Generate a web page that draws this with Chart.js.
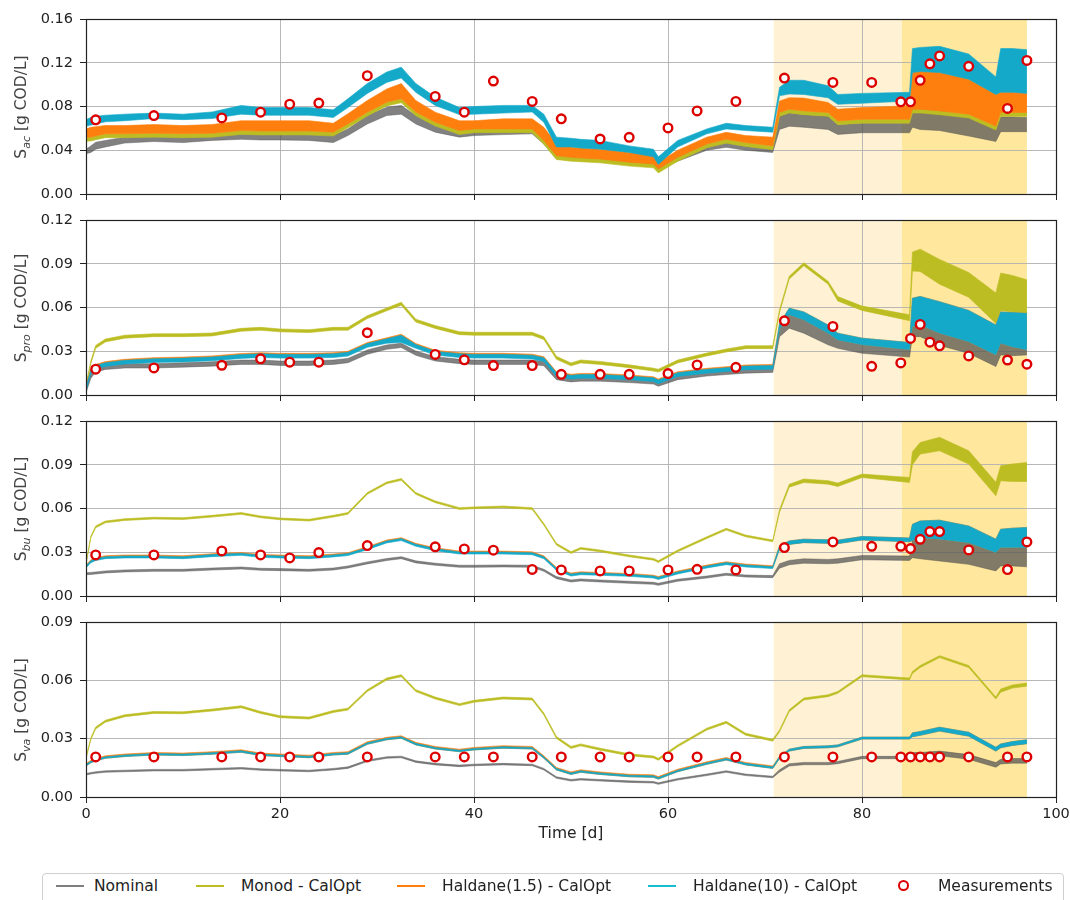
<!DOCTYPE html>
<html>
<head>
<meta charset="utf-8">
<title>VFA concentrations</title>
<script src="https://cdn.jsdelivr.net/npm/chart.js@4.4.1/dist/chart.umd.min.js"></script>
<style>
  html, body { margin: 0; padding: 0; background: #fff; }
  body { width: 1070px; height: 900px; position: relative; overflow: hidden; font-family: "DejaVu Sans", sans-serif; }
  canvas.panel { position: absolute; left: 0; }
  .ylab { position: absolute; left: 21px; transform: translate(-50%, -50%) rotate(-90deg); white-space: nowrap; font-size: 15.5px; color: #444; }
  .ylab .sub { font-size: 11px; font-style: italic; position: relative; top: 4px; }
  #xtitle { position: absolute; left: 571px; top: 833px; transform: translate(-50%, -50%); font-size: 15.5px; color: #222; white-space: nowrap; }
  #legend { position: absolute; left: 42px; top: 873px; width: 1022px; height: 36px; border: 1px solid #cfcfcf; border-radius: 4px; box-sizing: border-box; }
  .lg-line { position: absolute; top: 885px; width: 28px; height: 2px; }
  .lg-txt { position: absolute; top: 886px; transform: translateY(-50%); font-size: 15.5px; color: #222; white-space: nowrap; }
  .lg-mark { position: absolute; left: 898px; top: 880px; width: 7px; height: 7px; border: 2.4px solid #dd0000; border-radius: 50%; background: #fff; }
</style>
</head>
<body>
<canvas id="c1" class="panel" width="1070" height="195" style="top:9px"></canvas>
<canvas id="c2" class="panel" width="1070" height="195" style="top:210px"></canvas>
<canvas id="c3" class="panel" width="1070" height="195" style="top:411px"></canvas>
<canvas id="c4" class="panel" width="1070" height="230" style="top:612px"></canvas>

<div class="ylab" style="top:106.5px">S<span class="sub">ac</span> [g COD/L]</div>
<div class="ylab" style="top:307.5px">S<span class="sub">pro</span> [g COD/L]</div>
<div class="ylab" style="top:508.5px">S<span class="sub">bu</span> [g COD/L]</div>
<div class="ylab" style="top:709.5px">S<span class="sub">va</span> [g COD/L]</div>
<div id="xtitle">Time [d]</div>

<div id="legend"></div>
<div class="lg-line" style="left:56px;background:#7f7f7f"></div>
<div class="lg-txt" style="left:94px">Nominal</div>
<div class="lg-line" style="left:196px;background:#bcbd22"></div>
<div class="lg-txt" style="left:241px">Monod - CalOpt</div>
<div class="lg-line" style="left:397px;background:#ff7f0e"></div>
<div class="lg-txt" style="left:442px">Haldane(1.5) - CalOpt</div>
<div class="lg-line" style="left:648px;background:#17becf"></div>
<div class="lg-txt" style="left:693px">Haldane(10) - CalOpt</div>
<div class="lg-mark"></div>
<div class="lg-txt" style="left:938px">Measurements</div>

<script>
// Simulation time grid [d]; every curve below is sampled on it.
// Each simulated series is stored as the upper and lower envelope of its daily oscillation.
const T = [0,0.5,1,2,4,7,10,13,16,18,20,23,25.5,27,29,31,32.5,34,36,38.5,40,43,46,47.2,48.5,50,51,53,56,58.5,59,61,64,66,68,70.8,71.5,72.5,74,76.5,77.5,80,84.9,85.2,86,88,91,93.8,94.3,95.5,97];

// Sampling days of the lab measurements
const MEAS_T = [1,7,14,18,21,24,29,36,39,42,46,49,53,56,60,63,67,72,77,81,84,85,86,87,88,91,95,97];

// Operating periods highlighted in the background
const PERIOD_A = [70.9, 84.1];
const PERIOD_B = [84.1, 97];

// Axis ticks
const X_TICKS = [0,20,40,60,80,100];
const Y_TICKS_AC = [0,0.04,0.08,0.12,0.16];
const Y_TICKS_PRO = [0,0.03,0.06,0.09,0.12];
const Y_TICKS_BU = [0,0.03,0.06,0.09,0.12];
const Y_TICKS_VA = [0,0.03,0.06,0.09];

// ---- S_ac ----
const AC_H10_HI = [0.068,0.070,0.071,0.072,0.073,0.074,0.073,0.075,0.081,0.079,0.079,0.079,0.077,0.087,0.101,0.1115,0.116,0.101,0.0886,0.079,0.080,0.081,0.081,0.073,0.052,0.051,0.050,0.049,0.044,0.041,0.034,0.049,0.0595,0.0647,0.0626,0.061,0.0975,0.104,0.104,0.099,0.091,0.092,0.093,0.133,0.134,0.135,0.128,0.107,0.133,0.133,0.132];
const AC_H10_LO = [0.062,0.063,0.064,0.066,0.067,0.069,0.068,0.069,0.073,0.072,0.072,0.072,0.070,0.079,0.092,0.102,0.106,0.093,0.081,0.0726,0.073,0.074,0.075,0.0655,0.043,0.043,0.042,0.041,0.038,0.034,0.027,0.043,0.055,0.0595,0.058,0.0565,0.0898,0.0914,0.091,0.088,0.082,0.083,0.085,0.111,0.112,0.111,0.105,0.091,0.093,0.093,0.092];
const AC_H15_HI = [0.0595,0.061,0.0616,0.0626,0.0626,0.0635,0.0626,0.0635,0.067,0.067,0.067,0.067,0.0647,0.0733,0.0855,0.096,0.101,0.0855,0.0748,0.067,0.067,0.0687,0.0687,0.061,0.046,0.0427,0.042,0.041,0.038,0.035,0.029,0.040,0.052,0.0564,0.0534,0.052,0.085,0.088,0.0877,0.0837,0.0775,0.079,0.0806,0.111,0.112,0.111,0.105,0.091,0.093,0.093,0.092];
const AC_H15_LO = [0.0518,0.052,0.053,0.055,0.055,0.0555,0.055,0.0555,0.058,0.0575,0.0575,0.0575,0.0565,0.064,0.0748,0.084,0.087,0.075,0.0656,0.058,0.0595,0.0595,0.0595,0.049,0.035,0.0335,0.033,0.032,0.029,0.0274,0.0228,0.0335,0.0457,0.050,0.047,0.044,0.0745,0.0775,0.076,0.0745,0.0668,0.0683,0.0683,0.0775,0.0775,0.076,0.073,0.062,0.0745,0.0745,0.0745];
const AC_MON_HI = [0.0518,0.052,0.053,0.055,0.055,0.0555,0.055,0.0555,0.058,0.0575,0.0575,0.0575,0.0565,0.064,0.0748,0.084,0.087,0.075,0.0656,0.058,0.0595,0.0595,0.0595,0.049,0.035,0.0335,0.033,0.032,0.029,0.0274,0.0228,0.0335,0.0457,0.050,0.047,0.044,0.0745,0.0775,0.076,0.0745,0.0668,0.0683,0.0683,0.0775,0.0775,0.076,0.073,0.062,0.0745,0.0745,0.0745];
const AC_MON_LO = [0.0483,0.0485,0.0495,0.0515,0.0515,0.052,0.0515,0.052,0.0545,0.054,0.054,0.054,0.053,0.0605,0.0713,0.0805,0.0835,0.0715,0.0621,0.0545,0.056,0.056,0.056,0.0455,0.0315,0.030,0.0295,0.0285,0.0255,0.0239,0.0193,0.030,0.0422,0.0465,0.0435,0.0405,0.071,0.074,0.0725,0.071,0.0633,0.0648,0.0648,0.074,0.074,0.0725,0.0695,0.0585,0.071,0.071,0.071];
const AC_NOM_HI = [0.041,0.044,0.0473,0.049,0.052,0.0534,0.0534,0.054,0.0565,0.055,0.0555,0.055,0.0534,0.0595,0.0717,0.0794,0.081,0.0717,0.064,0.0595,0.0595,0.060,0.061,0.055,0.040,0.038,0.0375,0.0366,0.034,0.032,0.0274,0.0366,0.0457,0.047,0.045,0.0427,0.071,0.074,0.0725,0.071,0.0633,0.0648,0.0648,0.0775,0.0775,0.076,0.0714,0.059,0.0705,0.0705,0.070];
const AC_NOM_LO = [0.0367,0.038,0.041,0.043,0.0466,0.048,0.047,0.049,0.050,0.0494,0.0494,0.049,0.047,0.0534,0.064,0.0717,0.073,0.064,0.0565,0.052,0.0534,0.0543,0.055,0.0457,0.032,0.031,0.0305,0.030,0.0274,0.0248,0.0228,0.030,0.040,0.0427,0.040,0.038,0.059,0.062,0.061,0.059,0.0545,0.056,0.056,0.061,0.059,0.058,0.053,0.048,0.057,0.057,0.057];
const AC_MEAS = [0.0678,0.0717,0.0696,0.0748,0.0821,0.0831,0.1082,0.0892,0.0748,0.1033,0.0846,0.0687,0.0503,0.0518,0.0604,0.0760,0.0846,0.1060,0.1020,0.1020,0.0843,0.0843,0.1039,0.1190,0.1262,0.1167,0.0782,0.1221];

// ---- S_pro ----
const PRO_H10_HI = [0.0055,0.0173,0.0203,0.0222,0.0238,0.0249,0.0253,0.0261,0.0277,0.0283,0.0279,0.0279,0.0283,0.0293,0.0353,0.0385,0.041,0.0346,0.030,0.0283,0.0279,0.0279,0.0273,0.0256,0.0153,0.0135,0.0141,0.0141,0.013,0.0118,0.0103,0.0153,0.0176,0.0187,0.0199,0.0203,0.049,0.0595,0.057,0.048,0.0424,0.039,0.036,0.0664,0.0676,0.064,0.058,0.048,0.057,0.0565,0.056];
const PRO_H10_LO = [0.0025,0.0147,0.0177,0.0196,0.0212,0.0223,0.0227,0.0235,0.0251,0.0257,0.0253,0.0253,0.0257,0.0267,0.0327,0.0355,0.036,0.032,0.0274,0.0257,0.0253,0.0253,0.0247,0.023,0.0127,0.0109,0.0115,0.0115,0.0104,0.0092,0.0077,0.0127,0.015,0.0161,0.0173,0.0177,0.045,0.055,0.0515,0.0424,0.0378,0.0344,0.031,0.047,0.048,0.0424,0.0366,0.0275,0.0355,0.033,0.031];
const PRO_H15_HI = [0.0062,0.018,0.021,0.0229,0.0245,0.0256,0.026,0.0268,0.0284,0.029,0.0286,0.0286,0.029,0.03,0.036,0.0392,0.0417,0.0353,0.0307,0.029,0.0286,0.0286,0.028,0.0263,0.016,0.0142,0.0148,0.0148,0.0137,0.0125,0.011,0.016,0.0183,0.0194,0.0206,0.021,0.049,0.0595,0.057,0.048,0.0424,0.039,0.036,0.0664,0.0676,0.064,0.058,0.048,0.057,0.0565,0.056];
const PRO_H15_LO = [0.0049,0.0167,0.0197,0.0216,0.0232,0.0243,0.0247,0.0255,0.0271,0.0277,0.0273,0.0273,0.0277,0.0287,0.0347,0.0379,0.0404,0.034,0.0294,0.0277,0.0273,0.0273,0.0267,0.025,0.0147,0.0129,0.0135,0.0135,0.0124,0.0112,0.0097,0.0147,0.017,0.0181,0.0193,0.0197,0.045,0.055,0.0515,0.0424,0.0378,0.0344,0.031,0.047,0.048,0.0424,0.0366,0.0275,0.0355,0.033,0.031];
const PRO_MON_HI = [0.007,0.0235,0.034,0.0384,0.041,0.042,0.042,0.0425,0.0457,0.0464,0.0453,0.0448,0.0464,0.0464,0.0544,0.0597,0.0636,0.052,0.0476,0.0434,0.043,0.043,0.043,0.040,0.0265,0.022,0.024,0.023,0.0207,0.0184,0.0177,0.024,0.0288,0.0315,0.0338,0.0338,0.0586,0.0815,0.0907,0.078,0.0675,0.061,0.055,0.098,0.100,0.093,0.084,0.070,0.0836,0.082,0.079];
const PRO_MON_LO = [0.005,0.0215,0.032,0.0364,0.039,0.040,0.040,0.0405,0.0437,0.0444,0.0433,0.0428,0.0444,0.0444,0.0524,0.0577,0.0616,0.050,0.0456,0.0414,0.041,0.041,0.041,0.038,0.0245,0.020,0.022,0.021,0.0187,0.0164,0.0157,0.022,0.0268,0.0295,0.0318,0.0318,0.0566,0.0795,0.0887,0.076,0.0645,0.058,0.051,0.085,0.0847,0.076,0.067,0.049,0.058,0.057,0.056];
const PRO_NOM_HI = [0.0045,0.0145,0.0187,0.0205,0.0215,0.0215,0.0221,0.0228,0.024,0.024,0.0233,0.0233,0.024,0.0251,0.0309,0.0343,0.0355,0.0302,0.0263,0.0245,0.024,0.024,0.024,0.023,0.0135,0.012,0.0125,0.0125,0.0115,0.0105,0.009,0.0135,0.016,0.017,0.018,0.0185,0.045,0.055,0.0515,0.0424,0.0378,0.0344,0.031,0.047,0.048,0.0424,0.0366,0.0275,0.0355,0.033,0.031];
const PRO_NOM_LO = [0.0015,0.0115,0.0157,0.0175,0.0185,0.0185,0.0191,0.0198,0.021,0.021,0.0203,0.0203,0.021,0.0221,0.0279,0.0313,0.0325,0.0272,0.0233,0.0215,0.021,0.021,0.021,0.020,0.0105,0.009,0.0095,0.0095,0.0085,0.0075,0.006,0.0105,0.013,0.014,0.015,0.0155,0.040,0.0458,0.0424,0.0344,0.032,0.0286,0.026,0.040,0.040,0.034,0.0286,0.0195,0.0275,0.027,0.0275];
const PRO_MEAS = [0.0177,0.0186,0.0204,0.0248,0.0225,0.0225,0.0427,0.0278,0.0241,0.0202,0.0202,0.0142,0.0142,0.0142,0.0147,0.0206,0.0190,0.0509,0.0470,0.0197,0.0220,0.0388,0.0484,0.0362,0.0337,0.0268,0.0240,0.0211];

// ---- S_bu ----
const BU_H10_HI = [0.0207,0.0242,0.0257,0.027,0.0275,0.0275,0.027,0.0284,0.0293,0.0279,0.0275,0.027,0.0282,0.0291,0.0332,0.0378,0.0394,0.0355,0.0325,0.0302,0.0302,0.0302,0.0297,0.027,0.019,0.0151,0.016,0.0156,0.0149,0.0137,0.0128,0.0165,0.0206,0.0229,0.0213,0.0202,0.0344,0.0378,0.039,0.0385,0.0383,0.0408,0.0398,0.0492,0.0515,0.052,0.048,0.039,0.0458,0.0465,0.047];
const BU_H10_LO = [0.0193,0.0228,0.0243,0.0256,0.0261,0.0261,0.0256,0.027,0.0279,0.0265,0.0261,0.0256,0.0268,0.0277,0.0318,0.0364,0.038,0.0341,0.0311,0.0288,0.0288,0.0288,0.0283,0.0256,0.0176,0.0137,0.0146,0.0142,0.0135,0.0123,0.0114,0.0151,0.0192,0.0215,0.0199,0.0188,0.032,0.0354,0.0366,0.0361,0.0359,0.0384,0.0372,0.038,0.040,0.039,0.0366,0.0298,0.0332,0.0332,0.0332];
const BU_H15_HI = [0.0213,0.0248,0.0263,0.0276,0.0281,0.0281,0.0276,0.029,0.0299,0.0285,0.0281,0.0276,0.0288,0.0297,0.0338,0.0384,0.04,0.0361,0.0331,0.0308,0.0308,0.0308,0.0303,0.0276,0.0196,0.0157,0.0166,0.0162,0.0155,0.0143,0.0134,0.0171,0.0212,0.0235,0.0219,0.0208,0.0344,0.0378,0.039,0.0385,0.0383,0.0408,0.0398,0.0492,0.0515,0.052,0.048,0.039,0.0458,0.0465,0.047];
const BU_H15_LO = [0.0203,0.0238,0.0253,0.0266,0.0271,0.0271,0.0266,0.028,0.0289,0.0275,0.0271,0.0266,0.0278,0.0287,0.0328,0.0374,0.039,0.0351,0.0321,0.0298,0.0298,0.0298,0.0293,0.0266,0.0186,0.0147,0.0156,0.0152,0.0145,0.0133,0.0124,0.0161,0.0202,0.0225,0.0209,0.0198,0.032,0.0354,0.0366,0.0361,0.0359,0.0384,0.0372,0.038,0.040,0.039,0.0366,0.0298,0.0332,0.0332,0.0332];
const BU_MON_HI = [0.0226,0.0411,0.048,0.0514,0.053,0.054,0.0537,0.0553,0.0572,0.0549,0.0535,0.0526,0.0553,0.0572,0.0709,0.0782,0.0805,0.0709,0.0652,0.0606,0.0611,0.0617,0.0606,0.0498,0.0361,0.0304,0.0333,0.0315,0.0281,0.0258,0.0242,0.0315,0.0406,0.0464,0.0418,0.0384,0.0594,0.0766,0.0802,0.0791,0.0775,0.0836,0.0813,0.099,0.1053,0.1088,0.0996,0.078,0.0893,0.0905,0.0916];
const BU_MON_LO = [0.0214,0.0399,0.0468,0.0502,0.0518,0.0528,0.0525,0.0541,0.056,0.0537,0.0523,0.0514,0.0541,0.056,0.0697,0.077,0.0793,0.0697,0.064,0.0594,0.0599,0.0605,0.0594,0.0486,0.0349,0.0292,0.0321,0.0303,0.0269,0.0246,0.023,0.0303,0.0394,0.0452,0.0406,0.0372,0.0574,0.0746,0.0778,0.0767,0.0751,0.0812,0.0779,0.090,0.0973,0.0996,0.0905,0.0687,0.079,0.0785,0.0785];
const BU_NOM_HI = [0.016,0.0162,0.0165,0.0172,0.0179,0.0183,0.0183,0.0192,0.0199,0.019,0.0188,0.0183,0.0192,0.0206,0.0234,0.0257,0.027,0.0241,0.0225,0.0211,0.0211,0.0213,0.0211,0.0183,0.0133,0.011,0.0117,0.011,0.0101,0.0094,0.0087,0.0115,0.0137,0.0156,0.0144,0.014,0.0221,0.0244,0.0255,0.0251,0.0255,0.0278,0.0274,0.038,0.040,0.039,0.0366,0.0298,0.0332,0.0332,0.0332];
const BU_NOM_LO = [0.0146,0.0148,0.0151,0.0158,0.0165,0.0169,0.0169,0.0178,0.0185,0.0176,0.0174,0.0169,0.0178,0.0192,0.022,0.0243,0.0256,0.0227,0.0211,0.0197,0.0197,0.0199,0.0197,0.0169,0.0119,0.0096,0.0103,0.0096,0.0087,0.008,0.0073,0.0101,0.0123,0.0142,0.013,0.0126,0.0191,0.0214,0.0225,0.0221,0.0225,0.0248,0.0244,0.0263,0.0255,0.024,0.0217,0.0172,0.0206,0.0206,0.0200];
const BU_MEAS = [0.0282,0.0282,0.0309,0.0282,0.0261,0.0298,0.0346,0.0337,0.0323,0.0314,0.0182,0.0179,0.0172,0.0172,0.0179,0.0183,0.0179,0.0332,0.0371,0.0341,0.0341,0.0325,0.0389,0.0442,0.0442,0.0316,0.0181,0.0371];

// ---- S_va ----
const VA_H10_HI = [0.0167,0.0184,0.0194,0.0207,0.0216,0.0224,0.0221,0.0228,0.0238,0.0221,0.0216,0.021,0.0224,0.0228,0.0279,0.0302,0.031,0.0276,0.0255,0.0241,0.025,0.0259,0.0255,0.0207,0.0147,0.0124,0.0135,0.0124,0.0112,0.0109,0.01,0.0138,0.0176,0.0198,0.0173,0.0155,0.0208,0.0246,0.026,0.0263,0.0268,0.0308,0.0308,0.033,0.0337,0.0359,0.0333,0.0256,0.0273,0.0285,0.0294];
const VA_H10_LO = [0.0159,0.0176,0.0186,0.0199,0.0208,0.0216,0.0213,0.022,0.023,0.0213,0.0208,0.0202,0.0216,0.022,0.0271,0.0294,0.0302,0.0268,0.0247,0.0233,0.0242,0.0251,0.0247,0.0199,0.0139,0.0116,0.0127,0.0116,0.0104,0.0101,0.0092,0.013,0.0168,0.019,0.0165,0.0147,0.0198,0.0236,0.025,0.0253,0.0258,0.0298,0.0298,0.031,0.0317,0.0339,0.0313,0.0236,0.0253,0.0265,0.0274];
const VA_H15_HI = [0.0172,0.0189,0.0199,0.0212,0.0221,0.0229,0.0226,0.0233,0.0243,0.0226,0.0221,0.0215,0.0229,0.0233,0.0284,0.0307,0.0315,0.0281,0.026,0.0246,0.0255,0.0264,0.026,0.0212,0.0152,0.0129,0.014,0.0129,0.0117,0.0114,0.0105,0.0143,0.0181,0.0203,0.0178,0.016,0.0208,0.0246,0.026,0.0263,0.0268,0.0308,0.0308,0.033,0.0337,0.0359,0.0333,0.0256,0.0273,0.0285,0.0294];
const VA_H15_LO = [0.0159,0.0176,0.0186,0.0199,0.0208,0.0216,0.0213,0.022,0.023,0.0213,0.0208,0.0202,0.0216,0.022,0.0271,0.0294,0.0302,0.0268,0.0247,0.0233,0.0242,0.0251,0.0247,0.0199,0.0139,0.0116,0.0127,0.0116,0.0104,0.0101,0.0092,0.013,0.0168,0.019,0.0165,0.0147,0.0198,0.0236,0.025,0.0253,0.0258,0.0298,0.0298,0.031,0.0317,0.0339,0.0313,0.0236,0.0253,0.0265,0.0274];
const VA_MON_HI = [0.0205,0.0305,0.036,0.0395,0.0423,0.044,0.0438,0.0452,0.0469,0.044,0.0418,0.0411,0.0445,0.0457,0.0552,0.0612,0.0629,0.0552,0.0514,0.048,0.0497,0.0514,0.0509,0.0432,0.0311,0.026,0.0273,0.0251,0.0222,0.0211,0.0199,0.0268,0.0354,0.0389,0.0328,0.0297,0.0345,0.0449,0.0509,0.0526,0.0543,0.0629,0.0612,0.0645,0.0676,0.0727,0.0676,0.0514,0.0555,0.0576,0.0586];
const VA_MON_LO = [0.0195,0.0295,0.035,0.0385,0.0413,0.043,0.0428,0.0442,0.0459,0.043,0.0408,0.0401,0.0435,0.0447,0.0542,0.0602,0.0619,0.0542,0.0504,0.047,0.0487,0.0504,0.0499,0.0422,0.0301,0.025,0.0263,0.0241,0.0212,0.0201,0.0189,0.0258,0.0344,0.0379,0.0318,0.0287,0.0335,0.0439,0.0499,0.0516,0.0533,0.0619,0.0602,0.0635,0.0666,0.0717,0.0666,0.0504,0.0539,0.056,0.057];
const VA_NOM_HI = [0.0121,0.0126,0.013,0.0135,0.0138,0.0142,0.0142,0.0147,0.0152,0.0145,0.0142,0.0138,0.0147,0.0155,0.019,0.0207,0.021,0.0186,0.0173,0.0164,0.0169,0.0173,0.0169,0.0147,0.0104,0.009,0.0095,0.009,0.0083,0.008,0.0073,0.0095,0.0118,0.0135,0.0118,0.0107,0.014,0.0171,0.0178,0.0178,0.0183,0.0209,0.0209,0.0229,0.0229,0.0236,0.0218,0.0177,0.0194,0.0198,0.0198];
const VA_NOM_LO = [0.0113,0.0118,0.0122,0.0127,0.013,0.0134,0.0134,0.0139,0.0144,0.0137,0.0134,0.013,0.0139,0.0147,0.0182,0.0199,0.0202,0.0178,0.0165,0.0156,0.0161,0.0165,0.0161,0.0139,0.0096,0.0082,0.0087,0.0082,0.0075,0.0072,0.0065,0.0087,0.011,0.0127,0.011,0.0099,0.0128,0.0159,0.0166,0.0166,0.0171,0.0197,0.0197,0.0205,0.0205,0.0212,0.0194,0.0153,0.017,0.0174,0.0174];
const VA_MEAS = [0.0206,0.0206,0.0206,0.0206,0.0206,0.0206,0.0206,0.0206,0.0206,0.0206,0.0206,0.0206,0.0206,0.0206,0.0206,0.0206,0.0206,0.0206,0.0206,0.0206,0.0206,0.0206,0.0206,0.0206,0.0206,0.0206,0.0206,0.0206];

// ---------------------------------------------------------------
const COL_NOM = 'rgba(80,80,80,0.72)';
const COL_MON = '#bcbd22';
const COL_H15 = '#ff7f0e';
const COL_H10 = '#14a9c9';
const COL_MEAS = '#dd0000';
const COL_PERIOD_A = '#fff2d4';
const COL_PERIOD_B = '#ffe79d';

Chart.defaults.font.family = '"DejaVu Sans", sans-serif';

const pts = (xs, ys) => xs.map((x, i) => ({ x, y: ys[i] }));

// An oscillating series drawn as the filled area between its envelopes
function band(hi, lo, color) {
  return [
    { data: pts(T, hi), borderColor: color, backgroundColor: color, borderWidth: 0.6, pointRadius: 0, fill: '+1', tension: 0 },
    { data: pts(T, lo), borderColor: color, backgroundColor: color, borderWidth: 0.6, pointRadius: 0, fill: false, tension: 0 }
  ];
}

const periodShading = {
  id: 'periodShading',
  beforeDraw(chart) {
    const { ctx, chartArea: a, scales: { x } } = chart;
    ctx.save();
    [[PERIOD_A, COL_PERIOD_A], [PERIOD_B, COL_PERIOD_B]].forEach(([p, c]) => {
      const x0 = x.getPixelForValue(p[0]);
      const x1 = x.getPixelForValue(p[1]);
      ctx.fillStyle = c;
      ctx.fillRect(x0, a.top, x1 - x0, a.bottom - a.top);
    });
    ctx.restore();
  }
};

const frame = {
  id: 'frame',
  afterDraw(chart) {
    const { ctx, chartArea: a } = chart;
    ctx.save();
    ctx.strokeStyle = '#222';
    ctx.lineWidth = 1.2;
    ctx.strokeRect(Math.round(a.left) + 0.5, Math.round(a.top) + 0.5, Math.round(a.right - a.left), Math.round(a.bottom - a.top));
    ctx.restore();
  }
};

function makePanel(id, yTicks, series, meas, isLast) {
  const yMax = yTicks[yTicks.length - 1];
  const datasets = [
    { data: pts(MEAS_T, meas), showLine: false, pointRadius: 4.3, pointBorderWidth: 2.4,
      pointBackgroundColor: '#fff', pointBorderColor: COL_MEAS, borderColor: COL_MEAS, fill: false },
    ...band(series[0], series[1], COL_H10),
    ...band(series[2], series[3], COL_H15),
    ...band(series[4], series[5], COL_MON),
    ...band(series[6], series[7], COL_NOM)
  ];
  return new Chart(document.getElementById(id), {
    type: 'line',
    data: { datasets },
    plugins: [periodShading, frame],
    options: {
      responsive: false, animation: false, devicePixelRatio: 1,
      layout: { padding: { left: 0, right: 14, top: 10, bottom: 0 } },
      plugins: { legend: { display: false }, tooltip: { enabled: false } },
      scales: {
        x: {
          type: 'linear', min: 0, max: 100,
          afterBuildTicks: s => { s.ticks = X_TICKS.map(v => ({ value: v })); },
          afterFit: s => { s.height = isLast ? 45 : 10; s.paddingLeft = 0; s.paddingRight = 0; },
          grid: { color: '#b0b0b0', lineWidth: 0.9, tickColor: '#222', tickLength: 6, tickWidth: 1 },
          border: { display: false },
          ticks: { display: isLast, autoSkip: false, maxRotation: 0, padding: 3, color: '#222', font: { size: 14.5 } }
        },
        y: {
          min: 0, max: yMax,
          afterBuildTicks: s => { s.ticks = yTicks.map(v => ({ value: v })); },
          afterFit: s => { s.width = 86; s.paddingTop = 0; s.paddingBottom = 0; },
          grid: { color: '#b0b0b0', lineWidth: 0.9, tickColor: '#222', tickLength: 6, tickWidth: 1 },
          border: { display: false },
          ticks: { padding: 7, color: '#222', font: { size: 14.5 }, callback: v => v.toFixed(2) }
        }
      }
    }
  });
}

makePanel('c1', Y_TICKS_AC, [AC_H10_HI, AC_H10_LO, AC_H15_HI, AC_H15_LO, AC_MON_HI, AC_MON_LO, AC_NOM_HI, AC_NOM_LO], AC_MEAS, false);
makePanel('c2', Y_TICKS_PRO, [PRO_H10_HI, PRO_H10_LO, PRO_H15_HI, PRO_H15_LO, PRO_MON_HI, PRO_MON_LO, PRO_NOM_HI, PRO_NOM_LO], PRO_MEAS, false);
makePanel('c3', Y_TICKS_BU, [BU_H10_HI, BU_H10_LO, BU_H15_HI, BU_H15_LO, BU_MON_HI, BU_MON_LO, BU_NOM_HI, BU_NOM_LO], BU_MEAS, false);
makePanel('c4', Y_TICKS_VA, [VA_H10_HI, VA_H10_LO, VA_H15_HI, VA_H15_LO, VA_MON_HI, VA_MON_LO, VA_NOM_HI, VA_NOM_LO], VA_MEAS, true);
</script>
</body>
</html>
